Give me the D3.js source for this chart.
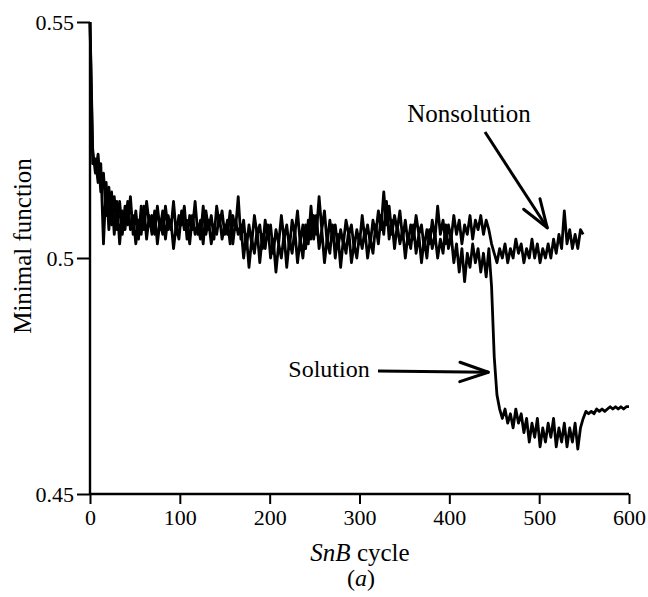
<!DOCTYPE html>
<html><head><meta charset="utf-8">
<script src="https://cdn.jsdelivr.net/npm/d3@7"></script>
</head>
<body style="margin:0;background:#fff">
<svg id="c" width="648" height="597"></svg>
<script>
// ---- data ----
const cycleStep = 3; // one value every 3 SnB cycles
const nonsolution = [
0.550,0.523,0.518,0.522,0.514,0.518,0.509,0.515,0.507,0.513,
0.506,0.512,0.505,0.511,0.507,0.513,0.505,0.510,0.504,0.511,
0.506,0.512,0.507,0.509,0.505,0.511,0.506,0.510,0.504,0.509,
0.506,0.512,0.505,0.509,0.507,0.511,0.504,0.509,0.506,0.512,
0.505,0.508,0.503,0.510,0.506,0.509,0.504,0.511,0.507,0.510,
0.505,0.508,0.503,0.509,0.506,0.513,0.504,0.508,0.502,0.507,
0.503,0.509,0.505,0.507,0.502,0.508,0.504,0.507,0.501,0.506,
0.503,0.509,0.504,0.507,0.502,0.508,0.505,0.510,0.503,0.507,
0.502,0.508,0.504,0.509,0.505,0.513,0.506,0.510,0.503,0.508,
0.504,0.507,0.502,0.506,0.503,0.508,0.505,0.507,0.502,0.506,
0.503,0.509,0.504,0.507,0.503,0.508,0.505,0.510,0.506,0.514,
0.507,0.511,0.505,0.509,0.506,0.510,0.504,0.508,0.503,0.507,
0.504,0.509,0.505,0.507,0.502,0.506,0.503,0.508,0.504,0.511,
0.505,0.508,0.503,0.507,0.504,0.509,0.505,0.508,0.503,0.507,
0.505,0.509,0.504,0.508,0.506,0.509,0.505,0.508,0.506,0.503,
0.501,0.499,0.502,0.500,0.503,0.499,0.502,0.500,0.504,0.501,
0.503,0.499,0.502,0.500,0.504,0.500,0.503,0.499,0.502,0.500,
0.503,0.500,0.504,0.501,0.505,0.502,0.510,0.503,0.506,0.502,
0.505,0.502,0.506,0.505
];
const solution = [
0.550,0.520,0.521,0.516,0.520,0.503,0.516,0.506,0.514,0.505,
0.512,0.503,0.510,0.506,0.512,0.506,0.509,0.503,0.508,0.505,
0.511,0.504,0.509,0.505,0.510,0.503,0.508,0.505,0.511,0.506,
0.508,0.502,0.507,0.504,0.510,0.506,0.508,0.503,0.509,0.505,
0.507,0.504,0.511,0.505,0.508,0.503,0.507,0.505,0.509,0.504,
0.507,0.505,0.510,0.503,0.508,0.505,0.507,0.500,0.505,0.498,
0.504,0.501,0.506,0.499,0.505,0.502,0.507,0.500,0.504,0.497,
0.503,0.500,0.505,0.498,0.504,0.501,0.506,0.499,0.504,0.500,
0.507,0.503,0.511,0.504,0.509,0.502,0.506,0.499,0.504,0.501,
0.507,0.500,0.505,0.498,0.504,0.501,0.506,0.499,0.503,0.500,
0.505,0.502,0.506,0.500,0.504,0.501,0.507,0.503,0.509,0.505,
0.512,0.504,0.508,0.502,0.507,0.503,0.506,0.500,0.505,0.502,
0.507,0.501,0.505,0.499,0.504,0.500,0.506,0.502,0.505,0.500,
0.504,0.501,0.507,0.502,0.505,0.499,0.503,0.497,0.502,0.495,
0.501,0.498,0.503,0.499,0.502,0.497,0.501,0.496,0.502,0.494,
0.479,0.471,0.468,0.466,0.468,0.465,0.467,0.464,0.468,0.465,
0.467,0.463,0.466,0.461,0.465,0.462,0.466,0.460,0.464,0.461,
0.465,0.462,0.466,0.460,0.464,0.461,0.465,0.460,0.464,0.461,
0.465,0.4595,0.464,0.466,0.4675,0.467,0.4675,0.467,0.468,0.4675,
0.468,0.4675,0.468,0.4685,0.468,0.4685,0.468,0.4685,0.468,0.4685,
0.4685
];
const xTicks = [0,100,200,300,400,500,600];
const yTicks = [0.45,0.5,0.55];
const yTickLabels = ["0.45","0.5","0.55"];
const xTitleItalic = "SnB";
const xTitleRest = " cycle";
const yTitle = "Minimal function";
const panelLabel = "a";
const annotations = [
  {text:"Nonsolution", cycle:509, value:0.5064},
  {text:"Solution", cycle:450, value:0.476}
];

// ---- layout ----
const FONT = "Liberation Serif";
const svg = d3.select("#c").attr("font-family", FONT);
const x = d3.scaleLinear().domain([0,600]).range([90,629]);
const y = d3.scaleLinear().domain([0.45,0.55]).range([494,22]);

const line = d3.line().x((d,i)=>x(i*cycleStep)).y(d=>y(d));

[nonsolution, solution].forEach(series=>{
  svg.append("path").datum(series).attr("d",line)
    .attr("fill","none").attr("stroke","#000").attr("stroke-width",2.8).attr("stroke-linejoin","round");
});

// axes
const gx = svg.append("g").attr("transform","translate(0,494)")
  .call(d3.axisBottom(x).tickValues(xTicks).tickSize(10).tickPadding(5).tickFormat(d3.format("d")));
const gy = svg.append("g").attr("transform","translate(90,0)")
  .call(d3.axisLeft(y).tickValues(yTicks).tickSize(13).tickPadding(3).tickFormat((d,i)=>yTickLabels[i]));
[gx,gy].forEach(g=>{
  g.attr("font-family", FONT).attr("font-size", 22);
  g.select(".domain").attr("stroke","#000").attr("stroke-width",2.4);
  g.selectAll(".tick line").attr("stroke","#000").attr("stroke-width",2);
  g.selectAll(".tick text").attr("font-family", FONT).attr("font-size",22).attr("fill","#000");
});
gx.select(".domain").attr("d","M90,0H629");
gy.select(".domain").attr("d","M0,22V494");

// titles
const xt = svg.append("text").attr("x",360).attr("y",561).attr("text-anchor","middle")
  .attr("font-family", FONT).attr("font-size",25);
xt.append("tspan").attr("font-style","italic").text(xTitleItalic);
xt.append("tspan").text(xTitleRest);
const pl = svg.append("text").attr("x",361).attr("y",586).attr("text-anchor","middle")
  .attr("font-family", FONT).attr("font-size",24);
pl.append("tspan").text("(");
pl.append("tspan").attr("font-style","italic").text(panelLabel);
pl.append("tspan").text(")");
svg.append("text").attr("transform","translate(31,246) rotate(-90)").attr("text-anchor","middle")
  .attr("font-family", FONT).attr("font-size",25).text(yTitle);

// annotations with open arrowheads
function arrow(x1,y1,x2,y2){
  svg.append("line").attr("x1",x1).attr("y1",y1).attr("x2",x2).attr("y2",y2)
    .attr("stroke","#000").attr("stroke-width",3);
  const a = Math.atan2(y2-y1,x2-x1), L=30, s=0.33;
  [a+Math.PI-s, a+Math.PI+s].forEach(t=>{
    svg.append("line").attr("x1",x2).attr("y1",y2)
      .attr("x2",x2+L*Math.cos(t)).attr("y2",y2+L*Math.sin(t))
      .attr("stroke","#000").attr("stroke-width",3).attr("stroke-linecap","round");
  });
}
const n = annotations[0], s = annotations[1];
svg.append("text").attr("x",469).attr("y",122).attr("text-anchor","middle")
  .attr("font-family", FONT).attr("font-size",25).text(n.text);
arrow(485,132,x(n.cycle),y(n.value));
svg.append("text").attr("x",329).attr("y",377).attr("text-anchor","middle")
  .attr("font-family", FONT).attr("font-size",24).text(s.text);
arrow(378,371,x(s.cycle)-6,y(s.value)+1);
</script></body></html>
